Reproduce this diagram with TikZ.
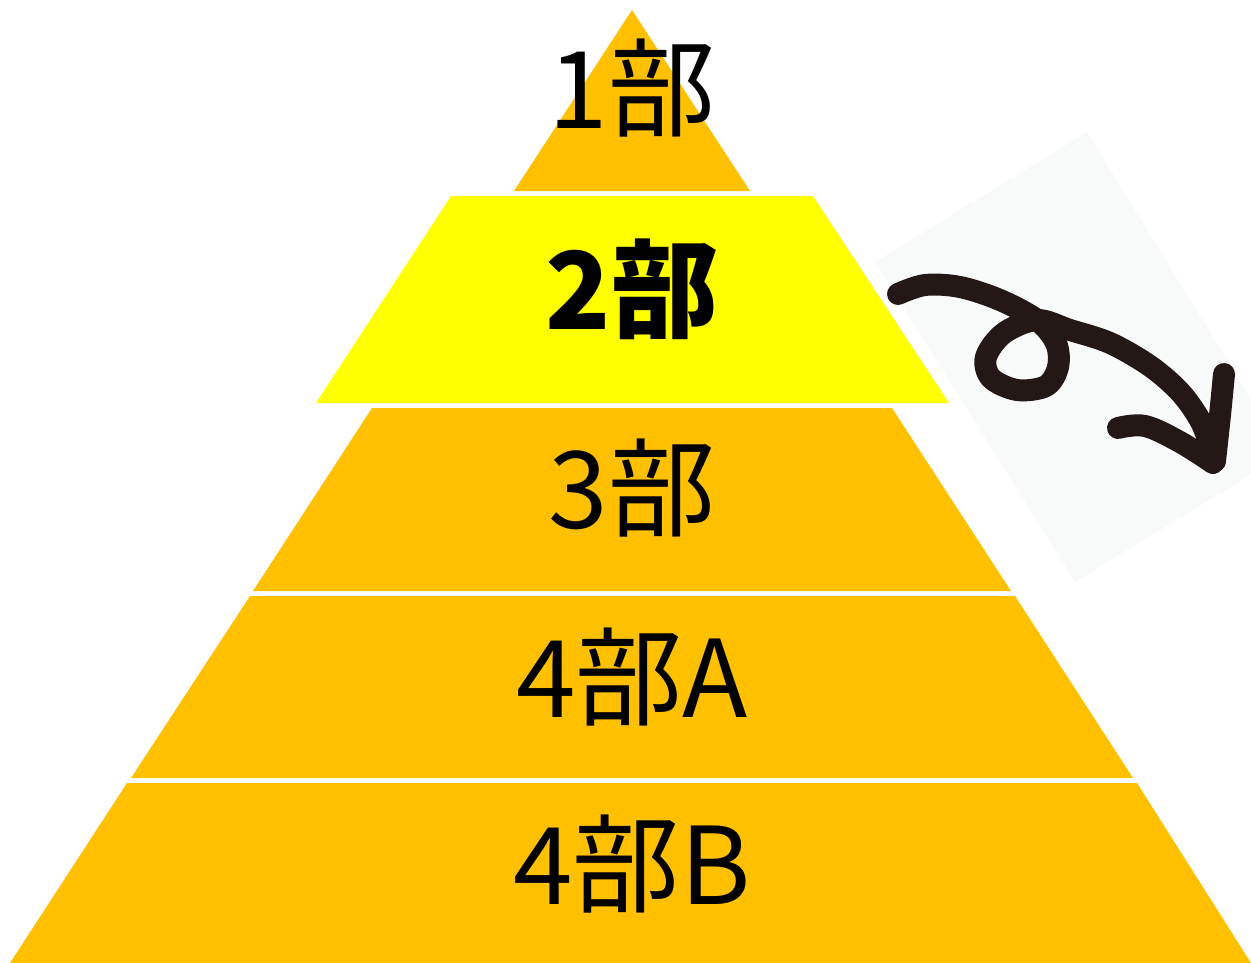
\documentclass[tikz,border=0pt]{standalone}
\usepackage{fontspec}
\setmainfont{Noto Sans CJK JP}
\usepackage{tikz}
\usetikzlibrary{calc}
\definecolor{gold}{HTML}{FFC000}
\definecolor{hilite}{HTML}{FFFF00}
\definecolor{paper}{HTML}{F8FAFA}
\definecolor{ink}{HTML}{231815}

\begin{document}
\begin{tikzpicture}
[x=0.02cm, y=-0.02cm,
lbl/.style={inner sep=0pt, font=\fontsize{61}{70}\selectfont},
scrawl/.style={draw=ink, line width=12.5pt, line cap=round, line join=round}]
\useasboundingbox (0,0) rectangle (1251,963);

% note paper behind the arrow
\begin{scope}
\clip (0,0) rectangle (1251,963);
\fill[paper] (875,262) -- (1087,132) -- (1285,454) -- (1075,582) -- cycle;
\end{scope}

% layers
\fill[gold] (632,10) -- (750,191) -- (514,191) -- cycle;
\fill[hilite] (451,196) -- (813,196) -- (949,403) -- (316,403) -- cycle;
\fill[gold] (372,408) -- (892,408) -- (1011,591) -- (253,591) -- cycle;
\fill[gold] (250,596) -- (1015,596) -- (1133,778) -- (131,778) -- cycle;
\fill[gold] (127,783) -- (1137,783) -- (1251,963) -- (10,963) -- cycle;

\node (l1) at (632,88) [lbl] {1部};
\node (l2) at (632,289) [lbl] {\bfseries 2部};
\node (l3) at (632,488) [lbl] {3部};
\node (l4a) at (632,677) [lbl] {4部A};
\node (l4b) at (632,864) [lbl] {4部B};

% hand drawn arrow
\draw[scrawl] plot[smooth, tension=0.55] coordinates {(898,294) (925,285) (960,287) (1000,300)
  (1037,320) (1056,343) (1058,367) (1046,386) (1017,390) (991,378) (986,357) (1004,333)
  (1037,320) (1070,330) (1110,343) (1150,366) (1180,392) (1200,420) (1210,445) (1215,461)};
\draw[scrawl] plot[smooth, tension=0.6] coordinates {(1224,374) (1220,415) (1215,461)};
\draw[scrawl] plot[smooth, tension=0.6] coordinates {(1118,428) (1145,426) (1180,442) (1213,463)};
\end{tikzpicture}
\end{document}
